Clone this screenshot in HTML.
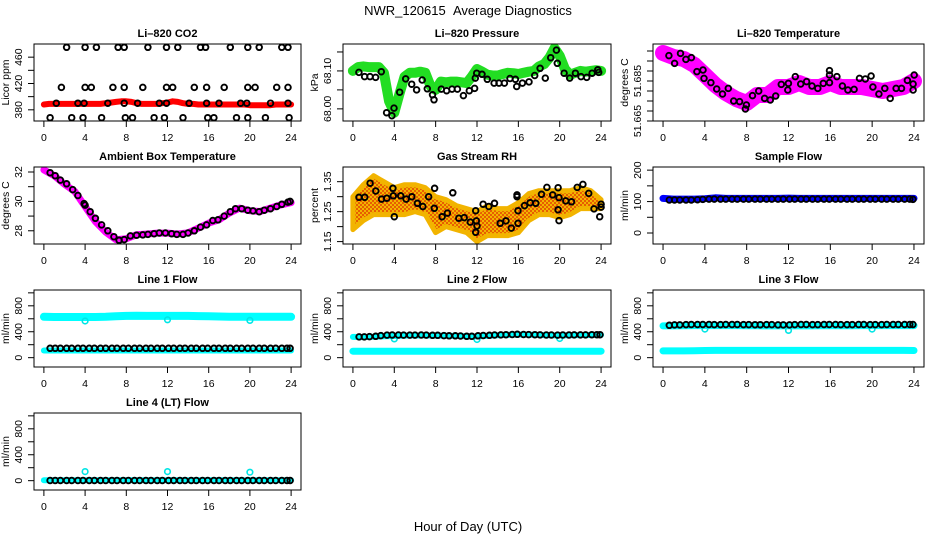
<!DOCTYPE html>
<html><head><meta charset="utf-8"><style>
html,body{margin:0;padding:0;background:#fff}
svg{display:block;font-family:"Liberation Sans",Arial,sans-serif}
</style></head><body>
<svg id="fig" width="936" height="540" viewBox="0 0 936 540" xmlns="http://www.w3.org/2000/svg">
<defs>
<pattern id="reddots" width="4" height="4" patternUnits="userSpaceOnUse"><rect width="4" height="4" fill="#f2b400"/><circle cx="1" cy="1" r="0.9" fill="#e02000"/><circle cx="3" cy="3" r="0.9" fill="#e02000"/></pattern>
</defs>
<text x="468" y="15" text-anchor="middle" font-size="13" style="white-space:pre">NWR_120615&#160;&#160;Average Diagnostics</text>
<text x="468" y="531" text-anchor="middle" font-size="13">Hour of Day (UTC)</text>
</svg>
<script>
// ---------- data ----------
const xTicks=[0,4,8,12,16,20,24];
const hourly=[0,1,2,3,4,5,6,7,8,9,10,11,12,13,14,15,16,17,18,19,20,21,22,23,24];
const halfHours=[0,0.5,1,1.5,2,2.5,3,3.5,4,4.5,5,5.5,6,6.5,7,7.5,8,8.5,9,9.5,10,10.5,11,11.5,12,12.5,13,13.5,14,14.5,15,15.5,16,16.5,17,17.5,18,18.5,19,19.5,20,20.5,21,21.5,22,22.5,23,23.5,24];
const blackHours=[0.6,1.1,1.6,2.2,2.7,3.3,3.8,4.4,4.9,5.5,6.0,6.6,7.1,7.7,8.2,8.8,9.3,9.9,10.4,11.0,11.5,12.1,12.6,13.2,13.7,14.3,14.8,15.4,15.9,16.5,17.0,17.6,18.1,18.7,19.2,19.8,20.3,20.9,21.4,22.0,22.5,23.1,23.6,23.9];

// CO2
const co2Red=[388,389,389,389,389,389,389,389,389,389,389,389,390,391,392,393,393,392,390,389,389,389,389,390,391,393,392,390,389,389,388,388,388,388,388,388,388,388,388,388,387,387,387,387,387,388,388,388,388];
const co2BlackX=[2.2,4.0,5.1,7.2,7.8,10.1,11.9,13.0,15.2,15.7,18.1,19.8,20.9,23.1,23.7, 1.7,4.0,4.6,6.7,7.8,9.6,11.9,12.5,14.6,15.8,17.5,19.8,20.5,22.6,23.7, 1.2,3.3,3.9,6.2,7.8,9.1,11.2,11.9,14.1,15.8,17.0,19.1,19.7,22.0,23.7, 0.6,2.7,3.8,5.6,7.9,8.6,10.7,11.7,13.5,15.9,16.5,18.7,19.8,21.5,23.8];
const co2BlackY=[475,475,475,475,475,475,475,475,475,475,475,475,475,475,475, 414,414,414,414,414,414,414,414,414,414,414,414,414,414,414, 390,390,390,390,390,390,390,390,390,390,390,390,390,390,390, 368,368,368,368,368,368,368,368,368,368,368,368,368,368,368];

// Pressure
const presGreen=[68.100,68.110,68.112,68.110,68.110,68.110,68.095,68.020,67.990,68.040,68.085,68.095,68.095,68.098,68.095,68.060,68.050,68.072,68.070,68.072,68.072,68.070,68.068,68.085,68.105,68.098,68.090,68.088,68.088,68.092,68.095,68.094,68.092,68.095,68.098,68.100,68.112,68.118,68.135,68.160,68.140,68.105,68.090,68.095,68.100,68.098,68.100,68.102,68.100];
const presBlackX=[0.58,1.13,1.65,2.19,2.74,3.26,3.77,3.97,4.52,5.1,5.68,6.16,6.7,7.19,7.7,7.84,8.55,9.06,9.58,10.1,10.68,11.26,11.77,11.84,11.97,12.48,13.0,13.65,14.13,14.65,15.19,15.71,15.84,16.39,17.03,17.58,18.1,18.61,19.13,19.68,19.77,20.42,20.97,21.52,22.06,22.61,23.13,23.68,23.77];
const presBlackY=[68.096,68.085,68.085,68.083,68.098,67.990,67.982,68.002,68.044,68.079,68.065,68.050,68.076,68.053,68.037,68.024,68.052,68.048,68.052,68.052,68.035,68.048,68.054,68.081,68.094,68.091,68.078,68.068,68.068,68.068,68.080,68.078,68.059,68.068,68.071,68.088,68.107,68.081,68.135,68.155,68.120,68.094,68.081,68.094,68.085,68.083,68.094,68.103,68.096];

// Li-820 temperature
const tempMag=[51.699,51.697,51.696,51.693,51.688,51.683,51.679,51.676,51.674,51.678,51.678,51.682,51.682,51.684,51.682,51.682,51.684,51.682,51.682,51.682,51.681,51.680,51.681,51.682,51.685];
const tempBlackX=[0.56,1.11,1.67,2.19,2.71,3.24,3.82,3.92,4.58,5.13,5.69,6.24,6.76,7.32,7.88,7.97,8.56,9.15,9.71,10.26,10.78,11.31,11.99,11.93,12.65,13.17,13.73,14.25,14.8,15.33,15.92,15.92,15.92,16.63,17.16,17.68,18.27,18.79,19.35,19.9,20.07,20.65,21.21,21.73,22.29,22.81,23.37,23.92,24.02,23.92];
const tempBlackY=[51.6977,51.6938,51.6988,51.6958,51.6967,51.6897,51.6905,51.6863,51.6842,51.681,51.6785,51.6813,51.675,51.6747,51.671,51.673,51.6777,51.680,51.6763,51.6755,51.6775,51.6833,51.6838,51.6805,51.6872,51.6835,51.6847,51.6825,51.6813,51.6838,51.6842,51.6902,51.688,51.6872,51.6825,51.6805,51.6808,51.6863,51.686,51.6875,51.682,51.6785,51.6813,51.6763,51.6813,51.6813,51.6853,51.6805,51.688,51.6835];

// Ambient box temperature
const ambMag=[32.14,31.75,31.17,30.67,29.65,28.63,27.91,27.39,27.46,27.73,27.78,27.84,27.84,27.78,27.86,28.18,28.52,28.75,29.2,29.54,29.36,29.31,29.54,29.76,29.92];
const ambBlackX=[0.6,1.1,1.6,2.2,2.8,3.3,3.9,4.0,4.5,5.0,5.6,6.2,6.8,7.3,7.8,8.4,9.0,9.6,10.1,10.7,11.2,11.8,12.4,12.9,13.5,14.0,14.6,15.2,15.8,16.4,16.9,17.5,18.1,18.6,19.2,19.8,20.3,20.9,21.4,22.0,22.6,23.1,23.7,23.9];
const ambBlackY=[31.95,31.75,31.45,31.2,30.8,30.4,29.85,29.75,29.3,28.85,28.4,28.0,27.6,27.35,27.4,27.65,27.7,27.72,27.75,27.8,27.85,27.85,27.8,27.75,27.75,27.85,28.0,28.25,28.4,28.7,28.75,29.0,29.3,29.5,29.5,29.4,29.35,29.3,29.4,29.5,29.65,29.8,29.95,30.0];

// Gas stream RH
const rhUpper=[1.30,1.34,1.37,1.35,1.33,1.34,1.34,1.33,1.30,1.29,1.27,1.26,1.25,1.27,1.26,1.26,1.28,1.31,1.32,1.32,1.32,1.32,1.33,1.32,1.29];
const rhLower=[1.19,1.22,1.24,1.24,1.24,1.24,1.25,1.24,1.18,1.20,1.19,1.18,1.15,1.17,1.17,1.17,1.18,1.22,1.24,1.24,1.23,1.24,1.26,1.26,1.26];
const rhBlackX=[0.59,1.14,1.66,2.21,2.76,3.28,3.87,3.9,4.0,4.62,5.14,5.69,6.24,6.76,7.32,7.87,7.9,8.62,9.14,9.66,10.24,10.76,11.35,11.87,11.93,12.0,11.87,12.59,13.14,13.69,14.24,14.8,15.32,15.87,15.87,15.97,15.97,16.59,17.14,17.69,18.24,18.76,19.32,19.84,19.84,19.93,19.93,20.59,21.14,21.69,22.24,22.8,23.32,23.87,24.0,24.0];
const rhBlackY=[1.298,1.298,1.345,1.319,1.292,1.295,1.328,1.303,1.233,1.303,1.292,1.30,1.278,1.267,1.30,1.261,1.328,1.233,1.245,1.313,1.228,1.23,1.215,1.253,1.219,1.202,1.181,1.275,1.267,1.278,1.211,1.219,1.195,1.306,1.30,1.253,1.211,1.27,1.28,1.278,1.308,1.331,1.306,1.256,1.33,1.22,1.297,1.286,1.283,1.331,1.341,1.311,1.259,1.233,1.275,1.265];

// Sample flow
const sampleBlue=[110,108,108,108,109,112,110,110,110,110,110,110,111,110,110,110,110,110,110,110,110,110,110,110,110];
const sampleBlack=[105,105,105,105,105,106,107,108,108,108,108,108,108,108,108,108,108,108,108,108,108,108,108,108,108,108,108,108,108,108,108,108,108,108,108,108,108,108,108,108,108,108,108,107];

// Line flows
const line1CyanHi=[630,628,628,628,628,628,630,640,645,648,645,645,645,645,645,642,640,635,632,630,630,630,630,630,630];
const line1CyanLo=[110,110,110,110,110,110,110,110,110,110,110,110,110,110,110,110,110,110,110,110,110,110,110,110,110];
const line1DipX=[4,12,20];
const line1DipY=[565,585,575];
const line1Black=[145,145,145,145,145,145,145,145,145,145,145,145,145,145,145,145,145,145,145,145,145,145,145,145,145,145,145,145,145,145,145,145,145,145,145,145,145,145,145,145,145,145,145,145];

const line2CyanHi=[320,318,322,330,335,340,342,342,340,338,336,330,328,336,345,352,358,356,350,345,342,345,348,350,352];
const line2CyanLo=[100,100,100,100,100,100,100,100,100,100,100,100,100,100,100,100,100,100,100,100,100,100,100,100,100];
const line2DipX=[4,12,20];
const line2DipY=[290,280,295];
const line2Black=[320,320,325,330,340,348,350,350,348,348,348,350,348,345,345,340,338,338,335,330,330,338,342,345,350,352,355,358,360,358,356,354,352,350,350,348,350,350,352,352,352,354,355,355];

const line3CyanHi=[490,490,492,495,495,495,495,495,492,492,490,490,490,490,490,492,492,492,492,495,495,495,495,495,495];
const line3CyanLo=[105,105,105,108,110,112,112,112,112,112,112,112,112,112,112,112,112,112,112,112,112,112,112,112,110];
const line3DipX=[4,12,20];
const line3DipY=[440,420,440];
const line3Black=[500,505,505,510,512,512,512,512,510,510,512,512,512,510,510,508,508,510,510,505,505,505,510,512,512,510,510,512,512,512,510,510,510,512,512,510,510,510,512,512,512,512,512,512];

const line4CyanLo=[5,5,5,5,5,5,5,5,5,5,5,5,5,5,5,5,5,5,5,5,5,5,5,5,5];
const line4DipX=[4,12,20];
const line4DipY=[140,140,130];
const line4Black=[2,2,2,2,2,2,2,2,2,2,2,2,2,2,2,2,2,2,2,2,2,2,2,2,2,2,2,2,2,2,2,2,2,2,2,2,2,2,2,2,2,2,2,2];

// ---------- layout ----------
const NS="http://www.w3.org/2000/svg";
const svg=document.getElementById('fig');
const colL=[34,343,653], colR=[301,611,924];
const rowT=[44,167,290,413], boxH=77;
function mk(tag,attrs,parent){const e=document.createElementNS(NS,tag);for(const k in attrs)e.setAttribute(k,attrs[k]);(parent||svg).appendChild(e);return e;}

function panel(name,col,row,title,ylab,ylim,yticks,ylabels){
  const L=colL[col],R=colR[col],T=rowT[row],B=T+boxH;
  const g=mk('g',{});
  
  
  const xlo=-0.96,xhi=24.96;
  const sx=v=>L+(v-xlo)/(xhi-xlo)*(R-L);
  const sy=v=>B-(v-ylim[0])/(ylim[1]-ylim[0])*(B-T);
  const clipId='clip-'+name;
  const cp=mk('clipPath',{id:clipId},g);mk('rect',{x:L,y:T,width:R-L,height:B-T},cp);
  const plot=mk('g',{'clip-path':'url(#'+clipId+')'},g);
  
  
  const t=mk('text',{x:(L+R)/2,y:T-7,'text-anchor':'middle','font-size':'11','font-weight':'bold'},g);
  t.textContent=title;
  
  
  const xa=mk('g',{},g);
  
  
  xTicks.forEach(v=>{
    mk('line',{x1:sx(v),x2:sx(v),y1:B,y2:B+6,stroke:'#000','stroke-width':1},xa);
    const tl=mk('text',{x:sx(v),y:B+20,'text-anchor':'middle','font-size':'10.5'},xa);tl.textContent=v;
  });
  const ya=mk('g',{},g);
  
  
  yticks.forEach((v,i)=>{
    mk('line',{x1:L-6,x2:L,y1:sy(v),y2:sy(v),stroke:'#000','stroke-width':1},ya);
    if(ylabels[i]!==''){const tl=mk('text',{x:L-12,y:sy(v),'text-anchor':'middle','font-size':'10.5',transform:'rotate(-90 '+(L-12)+' '+sy(v)+')'},ya);tl.textContent=ylabels[i];}
  });
  const yl=mk('text',{x:L-25,y:(T+B)/2,'text-anchor':'middle','font-size':'10.5',transform:'rotate(-90 '+(L-25)+' '+((T+B)/2)+')'},g);
  yl.textContent=ylab;
  
  
  return {g,plot,sx,sy,L,R,T,B};
}
function finishBox(p,name){
  const b=mk('rect',{x:p.L,y:p.T,width:p.R-p.L,height:p.B-p.T,fill:'none',stroke:'#000','stroke-width':1},p.g);
  
  
}
function band(p,name,xs,ys,color,w){
  const pts=xs.map((x,i)=>p.sx(x).toFixed(1)+','+p.sy(ys[i]).toFixed(1)).join(' ');
  const pl=mk('polyline',{points:pts,fill:'none',stroke:color,'stroke-width':w,'stroke-linejoin':'round','stroke-linecap':'round'},p.plot);
  
  
}
function pts(p,name,xs,ys,color,r,sw){
  const gg=mk('g',{},p.plot);
  
  
  xs.forEach((x,i)=>{
    mk('circle',{cx:p.sx(x).toFixed(1),cy:p.sy(ys[i]).toFixed(1),r:r||2.8,fill:'none',stroke:color,'stroke-width':sw||1.9},gg);
  });
}

// CO2
let p=panel('co2',0,0,'Li\u2013820 CO2','Licor ppm',[363,480],[380,400,420,440,460],['380','','420','','460']);
band(p,'co2-red-series',halfHours,co2Red,'#ff0000',6);
pts(p,'co2-black-points',co2BlackX,co2BlackY,'#000');
finishBox(p,'co2');

// Pressure
p=panel('pressure',1,0,'Li\u2013820 Pressure','kPa',[67.968,68.171],[68.00,68.05,68.10,68.15],['68.00','','68.10','']);
band(p,'pressure-green-series',halfHours,presGreen,'#22dd22',10);
pts(p,'pressure-black-points',presBlackX,presBlackY,'#000');
finishBox(p,'pressure');

// Li-820 temperature
p=panel('li820-temp',2,0,'Li\u2013820 Temperature','degrees C',[51.665,51.7035],[51.665,51.670,51.675,51.680,51.685,51.690,51.695,51.700],['51.665','','','','51.685','','','']);
band(p,'li820-temp-magenta-series',hourly,tempMag,'#ff00ff',16);
pts(p,'li820-temp-black-points',tempBlackX,tempBlackY,'#000');
finishBox(p,'li820-temp');

// Ambient
p=panel('ambient-temp',0,1,'Ambient Box Temperature','degrees C',[27.1,32.34],[28,29,30,31,32],['28','','30','','32']);
band(p,'ambient-magenta-series',hourly,ambMag,'#ff00ff',7);
pts(p,'ambient-black-points',ambBlackX,ambBlackY,'#000');
finishBox(p,'ambient-temp');

// RH
p=panel('rh',1,1,'Gas Stream RH','percent',[1.142,1.399],[1.15,1.20,1.25,1.30,1.35],['1.15','','1.25','','1.35']);
(function(){
  const up=hourly.map((x,i)=>p.sx(x).toFixed(1)+','+p.sy(rhUpper[i]).toFixed(1));
  const lo=hourly.map((x,i)=>p.sx(x).toFixed(1)+','+p.sy(rhLower[i]).toFixed(1)).reverse();
  const poly=mk('polygon',{points:up.concat(lo).join(' '),fill:'url(#reddots)',stroke:'#f2b400','stroke-width':5,'stroke-linejoin':'round'},p.plot);
  
  
})();
pts(p,'rh-black-points',rhBlackX,rhBlackY,'#000');
finishBox(p,'rh');

// Sample flow
p=panel('sample-flow',2,1,'Sample Flow','ml/min',[-35,210],[0,50,100,150,200],['0','','100','','200']);
band(p,'sample-flow-blue-series',hourly,sampleBlue,'#0000ff',7);
pts(p,'sample-flow-black-points',blackHours,sampleBlack,'#000');
finishBox(p,'sample-flow');

const flowTicks=[0,200,400,600,800,1000], flowLabels=['0','','400','','800',''];
// Line 1
p=panel('line1-flow',0,2,'Line 1 Flow','ml/min',[-144,1044],flowTicks,flowLabels);
band(p,'line1-cyan-high',hourly,line1CyanHi,'#00ffff',8);
band(p,'line1-cyan-low',hourly,line1CyanLo,'#00ffff',6);
pts(p,'line1-cyan-dips',line1DipX,line1DipY,'#00e5e5',2.8,1.6);
pts(p,'line1-black-points',blackHours,line1Black,'#000');
finishBox(p,'line1-flow');
// Line 2
p=panel('line2-flow',1,2,'Line 2 Flow','ml/min',[-144,1044],flowTicks,flowLabels);
band(p,'line2-cyan-low',hourly,line2CyanLo,'#00ffff',7);
band(p,'line2-cyan-high',hourly,line2CyanHi,'#00ffff',6);
pts(p,'line2-cyan-dips',line2DipX,line2DipY,'#00e5e5',2.8,1.6);
pts(p,'line2-black-points',blackHours,line2Black,'#000');
finishBox(p,'line2-flow');
// Line 3
p=panel('line3-flow',2,2,'Line 3 Flow','ml/min',[-144,1044],flowTicks,flowLabels);
band(p,'line3-cyan-low',hourly,line3CyanLo,'#00ffff',7);
band(p,'line3-cyan-high',hourly,line3CyanHi,'#00ffff',7);
pts(p,'line3-cyan-dips',line3DipX,line3DipY,'#00e5e5',2.8,1.6);
pts(p,'line3-black-points',blackHours,line3Black,'#000');
finishBox(p,'line3-flow');
// Line 4
p=panel('line4-flow',0,3,'Line 4 (LT) Flow','ml/min',[-144,1044],flowTicks,flowLabels);
band(p,'line4-cyan-low',hourly,line4CyanLo,'#00ffff',6);
pts(p,'line4-cyan-spikes',line4DipX,line4DipY,'#00e5e5',2.8,1.6);
pts(p,'line4-black-points',blackHours,line4Black,'#000');
finishBox(p,'line4-flow');
</script>
</body></html>
